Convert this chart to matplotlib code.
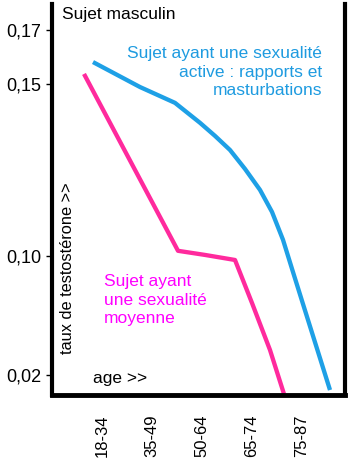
import numpy as np
import matplotlib
matplotlib.use('Agg')
import matplotlib.pyplot as plt

plt.rcParams['font.family'] = ['Liberation Sans', 'DejaVu Sans']

# tranches d'age (axe x) et ticks de l'axe y
ages = ['18-34', '35-49', '50-64', '65-74', '75-87']
y_ticks = [0.02, 0.10, 0.15, 0.17]
y_labels = ['0,02', '0,10', '0,15', '0,17']

# sexualite active (bleu)
active_x = [-0.18, 0.76, 1.46, 1.96, 2.26, 2.56, 2.86, 3.16, 3.40, 3.62, 3.82, 4.02, 4.56]
active_y = [0.1581, 0.1491, 0.1445, 0.1387, 0.1349, 0.1308, 0.1253, 0.1192, 0.1128,
            0.1047, 0.0892, 0.0677, 0.0099]

# sexualite moyenne (rose)
moy_x = [-0.36, 1.52, 2.06, 2.66, 3.00, 3.36, 3.64]
moy_y = [0.1537, 0.1015, 0.1003, 0.0973, 0.0684, 0.0368, 0.0072]

# echelle schematique (non lineaire) de l'axe y
_v = [0.0, 0.02, 0.10, 0.15, 0.17, 0.20]
_u = [-29.75, 0, 119, 291, 345, 426]
def fwd(v):
    return np.interp(v, _v, _u)
def inv(u):
    return np.interp(u, _u, _v)

W, H = 356, 458
def px(x, y):
    return x / W, 1 - y / H

fig = plt.figure(figsize=(W / 100, H / 100), dpi=100)
ax = fig.add_axes([52 / W, 1 - 395 / H, (345 - 52) / W, (395 - 4) / H])
ax.set_yscale('function', functions=(fwd, inv))

ax.plot(active_x, active_y, color='#1EA0E6', lw=3.1, solid_capstyle='butt',
        solid_joinstyle='round')
ax.plot(moy_x, moy_y, color='#FF2A9D', lw=3.1, solid_capstyle='butt',
        solid_joinstyle='round')

ax.set_xlim(-1.0, 4.86)
ax.set_ylim(0.00655, 0.1796)

ax.set_xticks(range(len(ages)))
ax.set_xticklabels(ages, rotation=90, fontsize=12)
ax.tick_params(axis='x', length=0, pad=14)
ax.set_yticks(y_ticks)
ax.set_yticklabels(y_labels, fontsize=13)
ax.tick_params(axis='y', length=4, width=1, pad=4)
ax.minorticks_off()

ax.spines['top'].set_visible(False)
for s in ['left', 'right', 'bottom']:
    ax.spines[s].set_linewidth(3)
    ax.spines[s].set_color('black')
ax.spines['bottom'].set_linewidth(3.5)

fig.text(*px(62, 15), 'Sujet masculin', fontsize=12.5, ha='left', va='center')
fig.text(*px(322, 46), 'Sujet ayant une sexualité\nactive : rapports et\nmasturbations',
         fontsize=12.5, color='#1E9BE0', ha='right', va='top', multialignment='right',
         linespacing=1.3)
fig.text(*px(104, 274), 'Sujet ayant\nune sexualité\nmoyenne', fontsize=12.5,
         color='#FF00FF', ha='left', va='top', linespacing=1.3)
fig.text(*px(68, 268), 'taux de testostérone >>', fontsize=11.8, rotation=90,
         ha='center', va='center')
fig.text(*px(93, 378), 'age >>', fontsize=12.5, ha='left', va='center')

fig.savefig('out.png', dpi=100)
